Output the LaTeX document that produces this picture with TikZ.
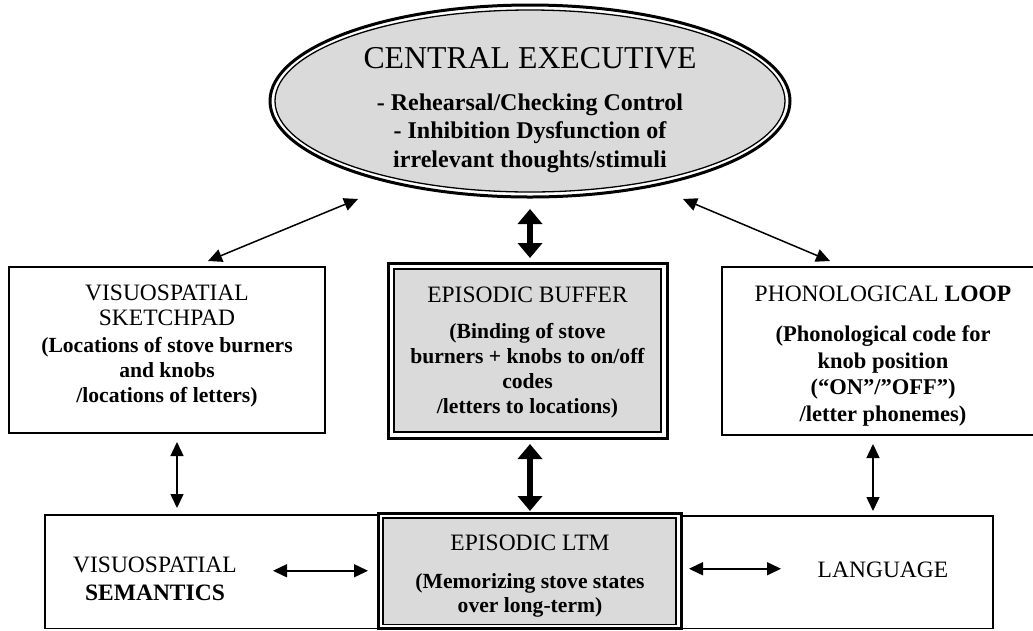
\documentclass[tikz,border=0pt]{standalone}
\usepackage{fontspec}
\setmainfont{Liberation Serif}
\usetikzlibrary{arrows.meta,calc,shapes.geometric}
\definecolor{boxgray}{RGB}{218,218,218}
\tikzset{
  every node/.style={inner sep=0pt, outer sep=0pt},
  plainbox/.style={draw, line width=1.5pt, fill=white, anchor=north west},
  dblouter/.style={draw, line width=3pt, fill=white, anchor=north west},
  dblinner/.style={draw, line width=1.5pt, fill=boxgray},
  titletxt/.style={font=\fontsize{31.8}{34}\selectfont, align=center, anchor=base},
  cebold/.style={font=\bfseries\fontsize{24}{28.5}\selectfont, align=center, anchor=base},
  regtxt/.style={font=\fontsize{23.5}{25}\selectfont, align=center, anchor=base},
  boldtxt/.style={font=\bfseries\fontsize{21.6}{25}\selectfont, align=center, anchor=base},
  thinarrow/.style={line width=1.5pt, {Triangle[length=14pt,width=13pt]}-{Triangle[length=14pt,width=13pt]}},
  thickarrow/.style={line width=6pt, {Triangle[length=15pt,width=24pt]}-{Triangle[length=15pt,width=24pt]}}
}
\begin{document}
\begin{tikzpicture}[x=1pt,y=-1pt]
\clip (0,0) rectangle (1033,630);

% Central executive ellipse (double border)
\node[ellipse, draw, line width=3pt, fill=white, minimum width=520pt, minimum height=192pt] (ce) at (530,101) {};
\draw[line width=1.3pt, fill=boxgray] (ce.center) ellipse [x radius=255pt, y radius=91pt];
\node[titletxt] (ceT) at (530,68) {CENTRAL EXECUTIVE};
\node[cebold] (ceB) at (530,167) {- Rehearsal/Checking Control\\- Inhibition Dysfunction of\\irrelevant thoughts/stimuli};

% Visuospatial sketchpad
\node[plainbox, minimum width=316pt, minimum height=166pt] (sk) at (9,267) {};
\node[regtxt] (skT) at (167,325) {VISUOSPATIAL\\SKETCHPAD};
\node[boldtxt] (skB) at (167,402) {(Locations of stove burners\\and knobs\\/locations of letters)};

% Episodic buffer
\node[dblouter, minimum width=279pt, minimum height=175pt] (buf) at (388,263) {};
\draw[dblinner] ($(buf.north west)+(6,6)$) rectangle ($(buf.south east)+(-6,-6)$);
\node[regtxt] (bufT) at (527.5,302) {EPISODIC BUFFER};
\node[boldtxt] (bufB) at (527.5,413) {(Binding of stove\\burners + knobs to on/off\\codes\\/letters to locations)};

% Phonological loop
\node[plainbox, minimum width=322pt, minimum height=168pt] (loop) at (722,267) {};
\node[regtxt] (loopT) at (883,301) {PHONOLOGICAL \textbf{LOOP}};
\node[boldtxt, font=\bfseries\fontsize{22.5}{26.5}\selectfont] (loopB) at (883,421) {(Phonological code for\\knob position\\(“ON”/”OFF”)\\/letter phonemes)};

% Bottom row
\node[plainbox, minimum width=333pt, minimum height=113.5pt] (sem) at (45,515) {};
\node[plainbox, minimum width=312pt, minimum height=112.5pt] (lang) at (681,516) {};
\node[dblouter, minimum width=303pt, minimum height=115.5pt] (ltm) at (378,513) {};
\draw[dblinner] ($(ltm.north west)+(5,5)$) rectangle ($(ltm.south east)+(-5,-4)$);

\node[regtxt, font=\fontsize{23.5}{28}\selectfont] (semT) at (155,600) {VISUOSPATIAL\\\textbf{SEMANTICS}};
\node[regtxt] (ltmT) at (530,550) {EPISODIC LTM};
\node[boldtxt, font=\bfseries\fontsize{21.6}{24}\selectfont] (ltmB) at (530,612) {(Memorizing stove states\\over long-term)};
\node[regtxt] (langT) at (883,577) {LANGUAGE};

% Connectors
\draw[thinarrow] ($(ce.center)+(-172,98)$) -- ($(sk.north)+(41,-6)$);
\draw[thinarrow] ($(ce.center)+(153,98)$) -- ($(loop.north)+(-53,-6)$);
\draw[thickarrow] ($(ce.south)+(0,12)$) -- ($(ce.south |- buf.north)+(0,-5)$);
\draw[thickarrow] ($(ce.south |- buf.south)+(0,6)$) -- ($(ce.south |- ltm.north)+(0,-2)$);
\draw[thinarrow] ($(sk.south)+(10,9)$) -- ($(sk.south -| 177,0)+(0,75)$);
\draw[thinarrow] ($(loop.south)+(-10,9)$) -- ($(loop.south -| 873,0)+(0,76)$);
\draw[thinarrow] ($(ltm.west)+(-105,0)$) -- ($(ltm.west)+(-10,0)$);
\draw[thinarrow] ($(ltm.east)+(8,-2)$) -- ($(ltm.east)+(100,-2)$);
\end{tikzpicture}
\end{document}
